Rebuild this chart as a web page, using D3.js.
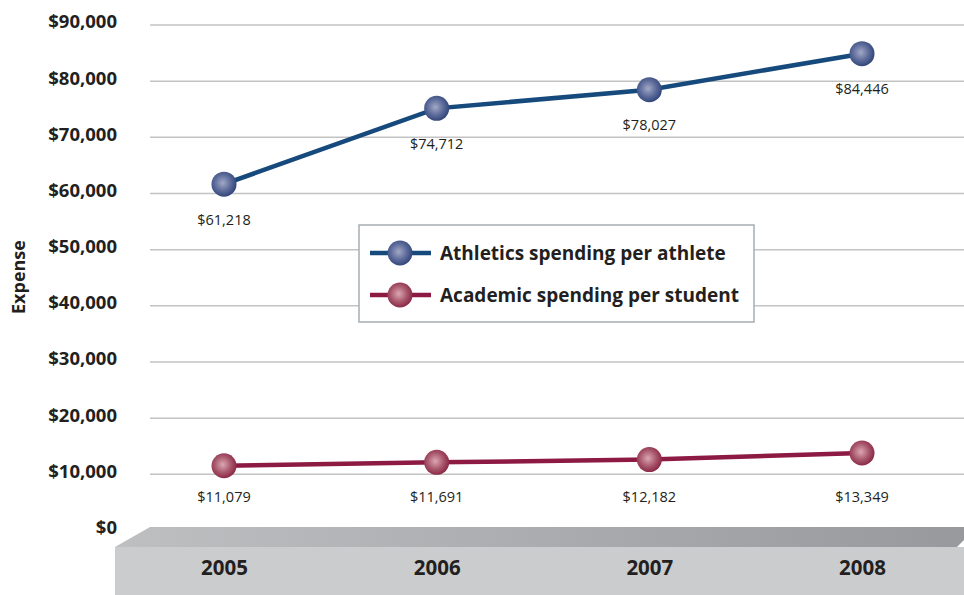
<!DOCTYPE html>
<html>
<head>
<meta charset="utf-8">
<script src="https://cdn.jsdelivr.net/npm/d3@7/dist/d3.min.js"></script>
<style>
  html, body { margin: 0; padding: 0; background: #ffffff; }
  svg { display: block; }
  text { font-family: "Open Sans", "Noto Sans", sans-serif; fill: #231f20; }
</style>
</head>
<body>
<svg id="chart" width="964" height="595"></svg>
<script>
// ---- data ----
const years = ["2005", "2006", "2007", "2008"];
const athletics = [61218, 74712, 78027, 84446];
const academic = [11079, 11691, 12182, 13349];
const seriesNames = ["Athletics spending per athlete", "Academic spending per student"];
const yTicks = [0, 10000, 20000, 30000, 40000, 50000, 60000, 70000, 80000, 90000];
const yTitle = "Expense";

// ---- layout ----
const W = 964, H = 595;
const svg = d3.select("#chart");
const defs = svg.append("defs");

const x = d3.scalePoint().domain(years).range([224, 862]);
const y = d3.scaleLinear().domain([0, 90000]).range([530.5, 25]);

const fmt = d3.format("$,");

// gradients
function ballGrad(id, light, mid, dark) {
  const g = defs.append("radialGradient").attr("id", id)
    .attr("cx", "45%").attr("cy", "45%").attr("r", "60%");
  g.append("stop").attr("offset", "0%").attr("stop-color", light);
  g.append("stop").attr("offset", "55%").attr("stop-color", mid);
  g.append("stop").attr("offset", "100%").attr("stop-color", dark);
}
ballGrad("ballBlue", "#a3a9c6", "#5b6a9a", "#2b3f73");
ballGrad("ballRed", "#dba7b2", "#a8566c", "#85203f");

const topGrad = defs.append("linearGradient").attr("id", "floorTop")
  .attr("x1", "0%").attr("x2", "100%").attr("y1", "0%").attr("y2", "0%");
topGrad.append("stop").attr("offset", "0%").attr("stop-color", "#bdbfc1");
topGrad.append("stop").attr("offset", "100%").attr("stop-color", "#97999c");

// floor (3D base)
const floorTopY = y(0) - 3.5, floorFrontY = floorTopY + 20;
svg.append("polygon")
  .attr("points", [[115, floorFrontY], [150, floorTopY], [W, floorTopY], [W, floorFrontY - 7], [957, floorFrontY]].map(p => p.join(",")).join(" "))
  .attr("fill", "url(#floorTop)");
svg.append("rect")
  .attr("x", 115).attr("y", floorFrontY)
  .attr("width", W - 115).attr("height", H - floorFrontY)
  .attr("fill", "#cbcccd");

// gridlines
svg.append("g").selectAll("line")
  .data(yTicks.filter(t => t > 0))
  .join("line")
  .attr("x1", 150).attr("x2", W)
  .attr("y1", d => y(d)).attr("y2", d => y(d))
  .attr("stroke", "#c3c3c3").attr("stroke-width", 1.5);

// y axis labels
const yAxis = d3.axisLeft(y).tickValues(yTicks).tickFormat(fmt).tickSize(0).tickPadding(0);
const yg = svg.append("g").attr("transform", "translate(117,-3)").call(yAxis);
yg.select(".domain").remove();
yg.selectAll("text")
  .attr("font-family", "'Open Sans', 'Noto Sans', sans-serif")
  .attr("font-size", 18.5).attr("font-weight", "bold").attr("fill", "#231f20");

// y title
svg.append("text")
  .attr("transform", "translate(25,277) rotate(-90)")
  .attr("text-anchor", "middle")
  .attr("font-size", 18).attr("font-weight", "bold")
  .text(yTitle);

// x axis labels (on floor)
const xAxis = d3.axisBottom(x).tickSize(0).tickPadding(0);
const xg = svg.append("g").attr("transform", "translate(0,560)").call(xAxis);
xg.select(".domain").remove();
xg.selectAll("text")
  .attr("font-family", "'Open Sans', 'Noto Sans', sans-serif")
  .attr("font-size", 20.5).attr("font-weight", "bold").attr("fill", "#231f20");

// lines
const line = d3.line().x((d, i) => x(years[i])).y(d => y(d));
const series = [
  { name: seriesNames[0], values: athletics, color: "#174a7c", ball: "url(#ballBlue)" },
  { name: seriesNames[1], values: academic, color: "#8c1a42", ball: "url(#ballRed)" }
];

const marks = svg.append("g").attr("transform", "translate(0,-2.5)");
series.forEach(s => {
  marks.append("path").datum(s.values)
    .attr("d", line)
    .attr("fill", "none").attr("stroke", s.color).attr("stroke-width", 4.5);
  marks.append("g").selectAll("circle").data(s.values).join("circle")
    .attr("cx", (d, i) => x(years[i])).attr("cy", d => y(d))
    .attr("r", 12.5).attr("fill", s.ball);
});

// data labels
svg.append("g").selectAll("text").data(athletics).join("text")
  .attr("x", (d, i) => x(years[i])).attr("y", d => y(d) + 38)
  .attr("text-anchor", "middle").attr("font-size", 14.5)
  .text(d => fmt(d));
svg.append("g").selectAll("text").data(academic).join("text")
  .attr("x", (d, i) => x(years[i])).attr("y", y(10000) + 28)
  .attr("text-anchor", "middle").attr("font-size", 14.5)
  .text(d => fmt(d));

// legend
const lg = svg.append("g").attr("transform", "translate(359,225)");
lg.append("rect").attr("width", 395).attr("height", 97)
  .attr("fill", "#ffffff").attr("stroke", "#a7adb3").attr("stroke-width", 1.5);
series.forEach((s, i) => {
  const cy = 28 + i * 42;
  lg.append("line").attr("x1", 11).attr("x2", 72).attr("y1", cy).attr("y2", cy)
    .attr("stroke", s.color).attr("stroke-width", 4.5);
  lg.append("circle").attr("cx", 41).attr("cy", cy).attr("r", 12.5).attr("fill", s.ball);
  lg.append("text").attr("x", 81).attr("y", cy + 6.5)
    .attr("font-size", 19).attr("font-weight", "bold")
    .text(s.name);
});
</script>
</body>
</html>
